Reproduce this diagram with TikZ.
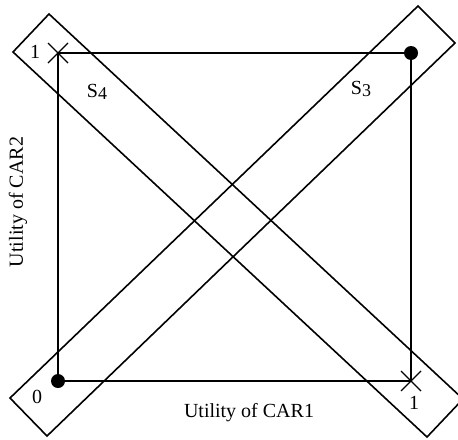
\documentclass[tikz,border=0pt]{standalone}
\usepackage{fontspec}
\setmainfont{Liberation Serif}
\usetikzlibrary{calc}
\begin{document}
\begin{tikzpicture}[x=0.5pt,y=-0.5pt,
  frame/.style={line width=1pt},
  band/.style={line width=0.8pt, line join=miter},
  lbl/.style={font=\fontsize{10pt}{12pt}\selectfont, inner sep=0pt},
  xmark/.style={line width=0.6pt}]
\useasboundingbox (0,0) rectangle (458,439);
% corners of the utility square
\coordinate (tl) at (58,53);
\coordinate (tr) at (411,53);
\coordinate (br) at (411,381);
\coordinate (bl) at (58,381);
\draw[frame] (tl) -- (tr) -- (br) -- (bl) -- cycle;
% band S4
\coordinate (a4) at (13,52);
\coordinate (b4) at (49,14);
\coordinate (c4) at (463,399);
\coordinate (d4) at (427,437);
\draw[band] (a4) -- (b4) -- (c4) -- (d4) -- cycle;
% band S3
\coordinate (a3) at (10,398);
\coordinate (b3) at (418,6);
\coordinate (c3) at (455,43);
\coordinate (d3) at (47,436);
\draw[band] (a3) -- (b3) -- (c3) -- (d3) -- cycle;
% markers
\fill (tr) circle (7);
\fill (bl) circle (7);
\draw[xmark] ($(tl)+(-10,-10)$) -- ($(tl)+(10,10)$);
\draw[xmark] ($(tl)+(-10,10)$) -- ($(tl)+(10,-10)$);
\draw[xmark] ($(br)+(-10,-10)$) -- ($(br)+(10,10)$);
\draw[xmark] ($(br)+(-10,10)$) -- ($(br)+(10,-10)$);
% labels
\node[lbl] (one1) at (35,52) {1};
\node[lbl] (zero) at (37,397) {0};
\node[lbl] (one2) at (414,403) {1};
\node[lbl] (s4) at (97,92) {S\raisebox{-1pt}{\small 4}};
\node[lbl] (s3) at (361,89) {S\raisebox{-1pt}{\small 3}};
\node[lbl] (xl) at (249,413) {Utility of CAR1};
\node[lbl, rotate=90] (yl) at (18,202) {Utility of CAR2};
\end{tikzpicture}
\end{document}
